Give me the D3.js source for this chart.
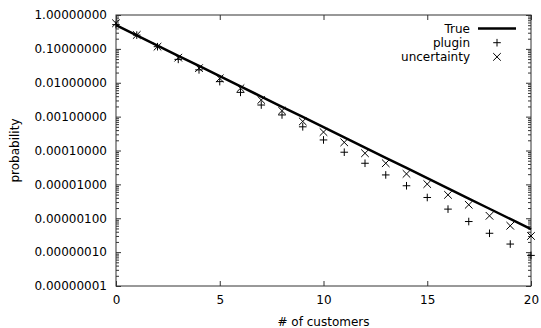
<!DOCTYPE html>
<html>
<head>
<meta charset="utf-8">
<script src="https://cdn.jsdelivr.net/npm/d3@7"></script>
<style>
  body { margin: 0; background: #fff; }
  svg { font-family: "DejaVu Sans", sans-serif; }
</style>
</head>
<body>
<div id="chart"></div>
<script>
// --- données ---
const customers = d3.range(0, 21);
const trueProb = [0.5, 0.25, 0.125, 0.0625, 0.03125, 0.015625, 0.0078125, 0.00390625,
  0.001953125, 0.0009765625, 0.00048828125, 0.000244140625, 0.0001220703125,
  0.00006103515625, 0.000030517578125, 0.0000152587890625, 0.00000762939453125,
  0.000003814697265625, 0.0000019073486328125, 0.00000095367431640625, 0.000000476837158203125];
const plugin = [0.52, 0.255, 0.116, 0.049, 0.024, 0.0108, 0.0052, 0.0022, 0.00112, 0.0005,
  0.000205, 0.000089, 0.000042, 0.000019, 0.0000091, 0.0000041, 0.00000186, 0.0000008,
  0.00000036, 0.000000173, 0.00000008];
const uncertainty = [0.57, 0.257, 0.116, 0.055, 0.027, 0.0135, 0.0069, 0.0031, 0.00150, 0.00072,
  0.00035, 0.000174, 0.000083, 0.000042, 0.0000204, 0.0000102, 0.0000049, 0.0000025,
  0.00000118, 0.0000006, 0.0000003];
const xTicks = [0, 5, 10, 15, 20];
const yTicks = [1, 1e-1, 1e-2, 1e-3, 1e-4, 1e-5, 1e-6, 1e-7, 1e-8];

const W = 541, H = 328;
const margin = {top: 15, right: 10, bottom: 42, left: 116};
const width = W - margin.left - margin.right;
const height = H - margin.top - margin.bottom;

const svg = d3.select("#chart").append("svg")
  .attr("width", W).attr("height", H);
const g = svg.append("g").attr("transform", `translate(${margin.left},${margin.top})`);

const x = d3.scaleLinear().domain([0, 20]).range([0, width]);
const y = d3.scaleLog().domain([1e-8, 1]).range([height, 0]);

const axisColor = "#333";

// ticks mineurs du log (2..9 par décade)
const minor = [];
for (let e = -8; e < 0; e++) for (let k = 2; k <= 9; k++) minor.push(k * Math.pow(10, e));

// axes: bas, haut, gauche, droite
const xb = g.append("g").attr("transform", `translate(0,${height})`)
  .call(d3.axisBottom(x).tickValues(xTicks).tickSize(-5).tickPadding(9).tickFormat(d3.format("d")));
const xt = g.append("g")
  .call(d3.axisTop(x).tickValues(xTicks).tickSize(-5).tickFormat(""));
const yl = g.append("g")
  .call(d3.axisLeft(y).tickValues(yTicks).tickSize(-5).tickPadding(9).tickFormat(d3.format(".8f")));
const yr = g.append("g").attr("transform", `translate(${width},0)`)
  .call(d3.axisRight(y).tickValues(yTicks).tickSize(-5).tickFormat(""));
g.append("g").call(d3.axisLeft(y).tickValues(minor).tickSize(-3).tickFormat(""));
g.append("g").attr("transform", `translate(${width},0)`)
  .call(d3.axisRight(y).tickValues(minor).tickSize(-3).tickFormat(""));

g.selectAll(".domain").remove();
g.selectAll(".tick line").attr("stroke", axisColor);
g.selectAll(".tick text").attr("fill", "#000").style("font-size", "12px")
  .style("font-family", "DejaVu Sans, sans-serif");

g.append("rect").attr("width", width).attr("height", height)
  .attr("fill", "none").attr("stroke", axisColor).attr("stroke-width", 1);

// libellés
svg.append("text").attr("x", margin.left + width / 2).attr("y", H - 2)
  .attr("text-anchor", "middle").style("font-size", "12px").text("# of customers");
svg.append("text").attr("transform", `translate(19,${margin.top + height / 2}) rotate(-90)`)
  .attr("text-anchor", "middle").style("font-size", "12px").text("probability");

// courbe vraie
const line = d3.line().x((d, i) => x(customers[i])).y(d => y(d));
g.append("path").datum(trueProb).attr("d", line)
  .attr("fill", "none").attr("stroke", "#000").attr("stroke-width", 2.5);

const s = 3.8;
function plus(sel) {
  sel.append("path").attr("d", `M${-s},0H${s}M0,${-s}V${s}`)
    .attr("stroke", "#000").attr("stroke-width", 1).attr("fill", "none");
}
function cross(sel) {
  sel.append("path").attr("d", `M${-s},${-s}L${s},${s}M${-s},${s}L${s},${-s}`)
    .attr("stroke", "#000").attr("stroke-width", 1).attr("fill", "none");
}

g.selectAll(".plugin").data(plugin).join("g").attr("class", "plugin")
  .attr("transform", (d, i) => `translate(${x(customers[i])},${y(d)})`).call(plus);
g.selectAll(".unc").data(uncertainty).join("g").attr("class", "unc")
  .attr("transform", (d, i) => `translate(${x(customers[i])},${y(d)})`).call(cross);

// légende
const legendItems = ["True", "plugin", "uncertainty"];
const leg = svg.append("g");
legendItems.forEach((name, i) => {
  const yy = 28.5 + i * 14.2;
  leg.append("text").attr("x", 470).attr("y", yy).attr("dy", "0.35em")
    .attr("text-anchor", "end").style("font-size", "12px").text(name);
  if (i === 0) {
    leg.append("line").attr("x1", 478).attr("x2", 516).attr("y1", yy).attr("y2", yy)
      .attr("stroke", "#000").attr("stroke-width", 2.5);
  } else {
    const m = leg.append("g").attr("transform", `translate(497,${yy})`);
    if (i === 1) plus(m); else cross(m);
  }
});
</script>
</body>
</html>
